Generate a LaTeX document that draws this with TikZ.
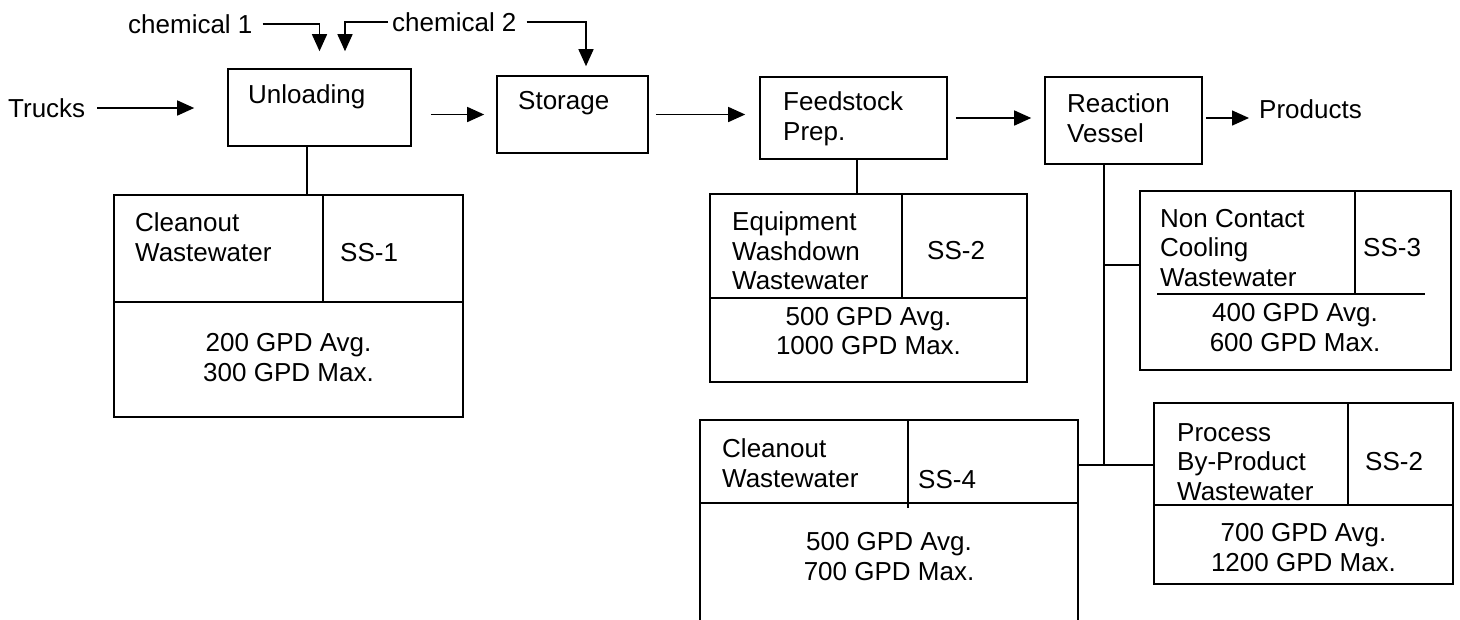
\documentclass[tikz,border=0pt]{standalone}
\usepackage{fontspec}
\setmainfont{Liberation Sans}
\usetikzlibrary{positioning, arrows.meta}

\begin{document}
\begin{tikzpicture}[
    x=1pt, y=-1pt,
    every node/.style={font=\fontsize{26}{29.5}\selectfont},
    box/.style={rectangle, draw, line width=1.6pt, inner sep=0pt},
    txt/.style={inner sep=0pt, anchor=west, align=left},
    gpd/.style={inner sep=0pt, align=center},
    flow/.style={line width=1.5pt},
    arrow/.style={flow, -{Triangle[length=17pt, width=15pt]}}
]
\useasboundingbox (0,0) rectangle (1460,619);

% process line
\node (unload) [box, minimum width=183pt, minimum height=77pt] at (319.5,107.5) {};
\node (storage) [box, minimum width=151pt, minimum height=77pt] at (572.5,114.5) {};
\node (feed) [box, minimum width=187pt, minimum height=82pt] at (853.5,118) {};
\node (react) [box, minimum width=157pt, minimum height=87pt] at (1123.5,120.5) {};

\node (unloadtxt) [txt] at (248,97) {Unloading};
\node (storagetxt) [txt] at (518,103) {Storage};
\node (feedtxt) [txt] at (783,119) {Feedstock\\Prep.};
\node (reacttxt) [txt] at (1067,118) {Reaction\\Vessel};

\node (trucks) [txt] at (8,108) {Trucks};
\node (prod) [txt] at (1259,109) {Products};
\node (chemA) [txt] at (128,24) {chemical 1};
\node (chemB) [txt] at (392,22) {chemical 2};

\coordinate (inA) at ([yshift=17pt]unload.north);
\coordinate (inB) at ([xshift=25.5pt, yshift=17pt]unload.north);
\coordinate (inC) at ([xshift=13.5pt, yshift=9pt]storage.north);

\draw [arrow, shorten >=33pt] ([xshift=12pt]trucks.east) -- (trucks.east -| unload.west);
\draw [arrow, shorten <=19pt, shorten >=12pt] (unload.east |- storage.west) -- (storage.west);
\draw [arrow, shorten <=7pt, shorten >=14pt] (storage.east) -- (storage.east -| feed.west);
\draw [arrow, shorten <=8pt, shorten >=13pt] (feed.east) -- (feed.east -| react.west);
\draw [arrow, shorten <=3pt, shorten >=10pt] (react.east |- feed.east) -- (feed.east -| prod.west);
\draw [arrow] ([xshift=10pt]chemA.east) -| (inA);
\draw [arrow] ([xshift=-4pt]chemB.west) -| (inB);
\draw [arrow] ([xshift=10pt]chemB.east) -| (inC);

% wastewater streams
\node (cw1) [box, minimum width=349pt, minimum height=222pt] at (288.5,306) {};
\draw [flow] (cw1.west |- 0,302) -- (cw1.east |- 0,302);
\draw [flow] (323,0 |- cw1.north) -- (323,302);
\node (cw1txt) [txt] at (135,237) {Cleanout\\Wastewater};
\node (cw1ss) [txt] at (340,253) {SS-1};
\node (cw1gpd) [gpd] at (288.5,357.5) {200 GPD Avg.\\300 GPD Max.};

\node (cw2) [box, minimum width=317pt, minimum height=188pt] at (868.5,288) {};
\draw [flow] (cw2.west |- 0,298) -- (cw2.east |- 0,298);
\draw [flow] (902,0 |- cw2.north) -- (902,298);
\node (cw2txt) [txt] at (732,251) {Equipment\\Washdown\\Wastewater};
\node (cw2ss) [txt] at (927,251) {SS-2};
\node (cw2gpd) [gpd] at (868.5,331) {500 GPD Avg.\\1000 GPD Max.};

\node (cw3) [box, minimum width=311pt, minimum height=179pt] at (1295.5,280.5) {};
\draw [flow] (1157,294) -- (1425,294);
\draw [flow] (1355,0 |- cw3.north) -- (1355,294);
\node (cw3txt) [txt] at (1160,248) {Non Contact\\Cooling\\Wastewater};
\node (cw3ss) [txt] at (1363,248) {SS-3};
\node (cw3gpd) [gpd] at (1295,327.5) {400 GPD Avg.\\600 GPD Max.};

% open at the foot of the page
\node (cw4) [box, draw=none, minimum width=376pt, minimum height=198pt] at (889,520) {};
\draw [flow, line join=miter] (cw4.south west) -- (cw4.north west) -- (cw4.north east) -- (cw4.south east);
\draw [flow] (cw4.west |- 0,503) -- (cw4.east |- 0,503);
\draw [flow] (908,0 |- cw4.north) -- (908,508);
\node (cw4txt) [txt] at (722,463) {Cleanout\\Wastewater};
\node (cw4ss) [txt] at (918,480) {SS-4};
\node (cw4gpd) [gpd] at (889,556.5) {500 GPD Avg.\\700 GPD Max.};

\node (cw5) [box, minimum width=299pt, minimum height=181pt] at (1303.5,493.5) {};
\draw [flow] (cw5.west |- 0,505) -- (cw5.east |- 0,505);
\draw [flow] (1348,0 |- cw5.north) -- (1348,505);
\node (cw5txt) [txt] at (1177,462) {Process\\By-Product\\Wastewater};
\node (cw5ss) [txt] at (1365,462) {SS-2};
\node (cw5gpd) [gpd] at (1303.5,547.5) {700 GPD Avg.\\1200 GPD Max.};

% drains
\coordinate (tee) at ([xshift=-19.5pt]react.south |- 0,465);
\draw [flow] ([xshift=-12.5pt]unload.south) -- ([xshift=-12.5pt]unload.south |- cw1.north);
\draw [flow] ([xshift=3.5pt]feed.south) -- ([xshift=3.5pt]feed.south |- cw2.north);
\draw [flow] ([xshift=-19.5pt]react.south) -- (tee);
\draw [flow] ([yshift=15.5pt]cw3.west) -- ([yshift=15.5pt]cw3.west -| tee);
\draw [flow] (tee -| cw4.east) -- (tee -| cw5.west);
\end{tikzpicture}
\end{document}
